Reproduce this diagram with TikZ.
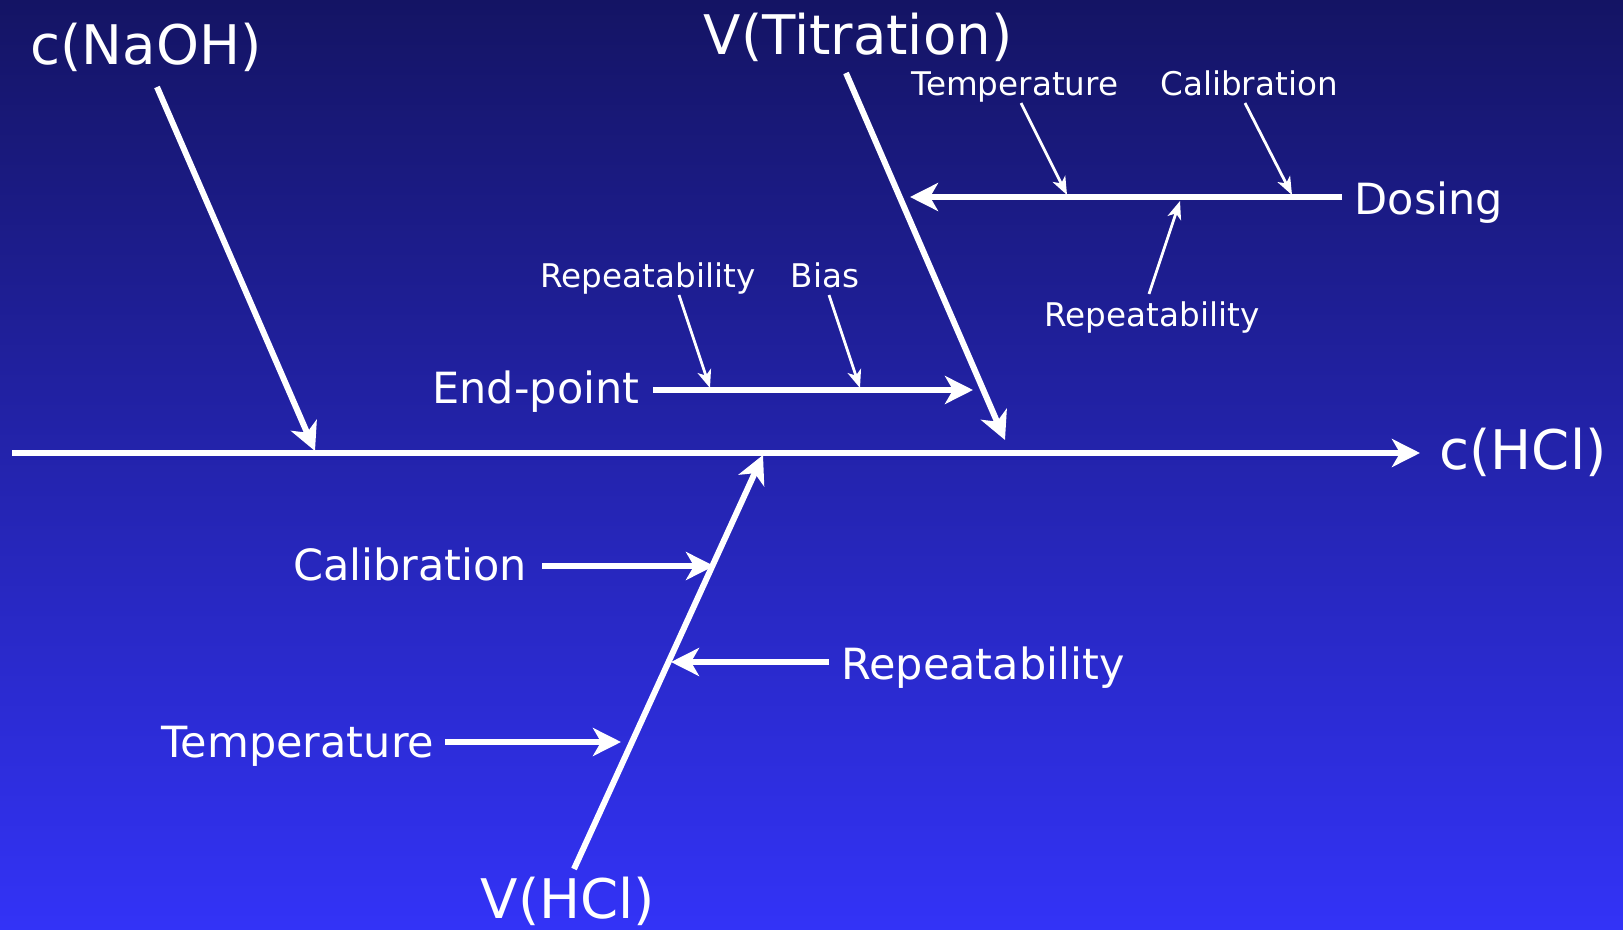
\documentclass[tikz,border=0pt]{standalone}
\usepackage{fontspec}
\setmainfont{DejaVu Sans}
\usetikzlibrary{arrows.meta}
\definecolor{bgtop}{RGB}{20,20,100}
\definecolor{bgbot}{RGB}{51,51,247}
\tikzset{
  big/.style={text=white, font=\fontsize{27.3}{31}\selectfont, inner sep=0pt, anchor=base},
  mid/.style={text=white, font=\fontsize{21.5}{25}\selectfont, inner sep=0pt, anchor=base},
  small/.style={text=white, font=\fontsize{16.3}{19}\selectfont, inner sep=0pt, anchor=base},
  thickarrow/.style={draw=white, line width=3pt, -{Stealth[length=14pt,width=14pt,inset=4pt]}},
  thickline/.style={draw=white, line width=3pt},
  thinarrow/.style={draw=white, line width=1.4pt, -{Stealth[length=9pt,width=7pt,inset=2.5pt]}}
}
\begin{document}
\begin{tikzpicture}[x=0.5pt,y=-0.5pt]
\useasboundingbox (0,0) rectangle (1623,930);
\shade[top color=bgtop, bottom color=bgbot] (0,0) rectangle (1623,930);

% texts
\node[big] (naoh) at (146,65) {c(NaOH)};
\node[big] (vtit) at (858,55) {V(Titration)};
\node[big] (hcl) at (1523,470) {c(HCl)};
\node[mid] (dosing) at (1429,215) {Dosing};
\node[big] (vhcl) at (568,918) {V(HCl)};
\node[mid] (endp) at (536,404) {End-point};
\node[mid] (calb) at (410,581) {Calibration};
\node[mid] (repb) at (983,679) {Repeatability};
\node[mid] (tempb) at (298,757) {Temperature};
\node[small] (tempt) at (1015,96) {Temperature};
\node[small] (calt) at (1249,96) {Calibration};
\node[small] (repe) at (648,288) {Repeatability};
\node[small] (bias) at (825,288) {Bias};
\node[small] (repd) at (1152,327) {Repeatability};

% coordinates
\coordinate (spineS) at (12,453);
\coordinate (spineE) at (1420,453);
\coordinate (naohS) at (157,87);
\coordinate (naohE) at (315,451);
\coordinate (vtitS) at (846,73);
\coordinate (vtitE) at (1005,440);
\coordinate (dosS) at (1342,197);
\coordinate (dosE) at (910,197);
\coordinate (temptS) at (1021,103);
\coordinate (temptE) at (1067,195);
\coordinate (caltS) at (1245,103);
\coordinate (caltE) at (1292,195);
\coordinate (repdS) at (1149,294);
\coordinate (repdE) at (1180,201);
\coordinate (endS) at (653,390);
\coordinate (endE) at (973,390);
\coordinate (repeS) at (679,295);
\coordinate (repeE) at (710,388);
\coordinate (biasS) at (829,295);
\coordinate (biasE) at (860,388);
\coordinate (vhclS) at (574,869);
\coordinate (vhclE) at (763,455);
\coordinate (calbS) at (542,566);
\coordinate (calbE) at (714,566);
\coordinate (repbS) at (829,662);
\coordinate (repbE) at (671,662);
\coordinate (tempbS) at (445,742);
\coordinate (tempbE) at (621,742);

% connectors
\draw[thickarrow] (spineS) -- (spineE);
\draw[thickarrow] (naohS) -- (naohE);
\draw[thickarrow] (vtitS) -- (vtitE);
\draw[thickarrow] (dosS) -- (dosE);
\draw[thinarrow] (temptS) -- (temptE);
\draw[thinarrow] (caltS) -- (caltE);
\draw[thinarrow] (repdS) -- (repdE);
\draw[thickarrow] (endS) -- (endE);
\draw[thinarrow] (repeS) -- (repeE);
\draw[thinarrow] (biasS) -- (biasE);
\draw[thickarrow] (vhclS) -- (vhclE);
\draw[thickarrow] (calbS) -- (calbE);
\draw[thickarrow] (repbS) -- (repbE);
\draw[thickarrow] (tempbS) -- (tempbE);
\end{tikzpicture}
\end{document}
